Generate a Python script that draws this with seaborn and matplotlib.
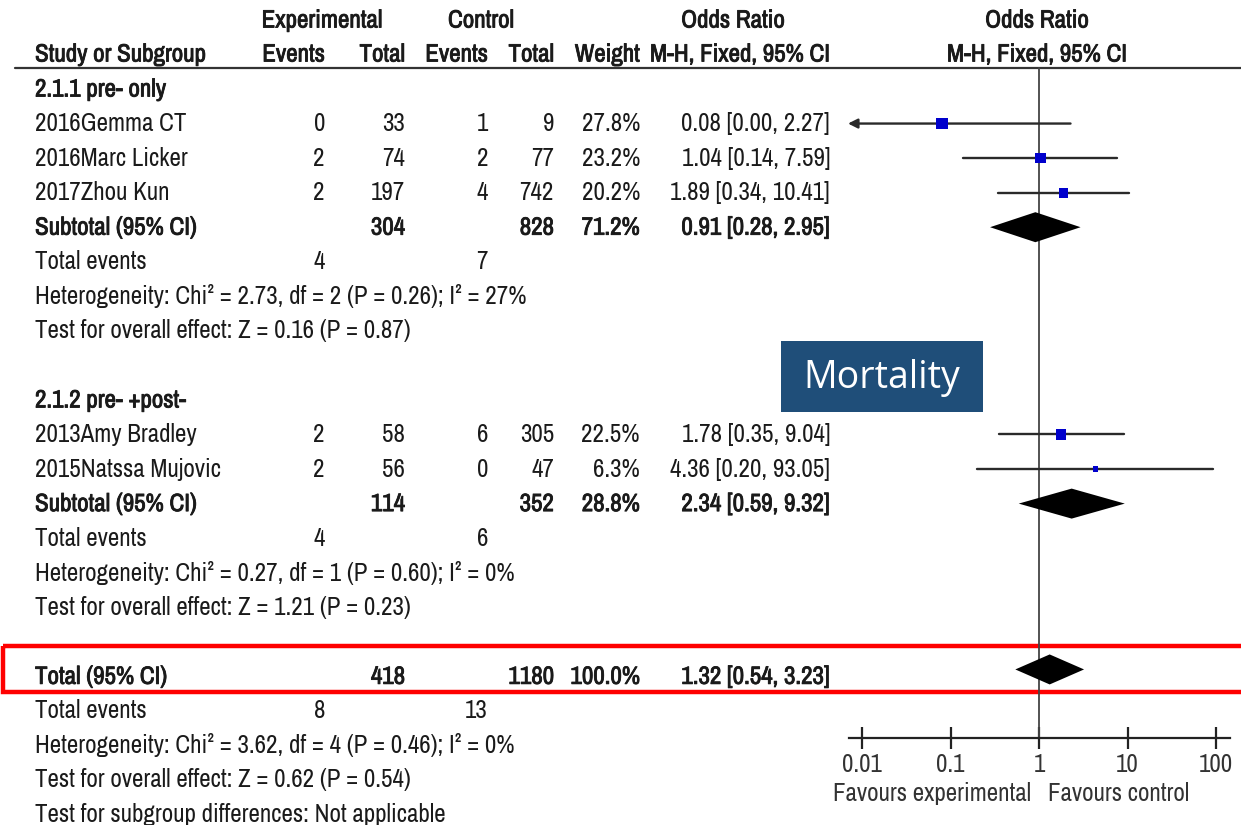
import numpy as np
import matplotlib
matplotlib.use("Agg")
import matplotlib.pyplot as plt
import matplotlib.patheffects as pe
import seaborn as sns
from matplotlib.patches import Rectangle

sns.set_theme(style="white")
NARROW = ['Archivo Narrow', 'Roboto Condensed', 'Liberation Sans', 'DejaVu Sans']
plt.rcParams['font.family'] = NARROW

# ---------------- data ----------------
group_labels = ["2.1.1 pre- only", "2.1.2 pre- +post-"]
study_names = ["2016Gemma CT", "2016Marc Licker", "2017Zhou Kun",
               "2013Amy Bradley", "2015Natssa Mujovic"]
study_group = [0, 0, 0, 1, 1]
exp_events = [0, 2, 2, 2, 2]
exp_total = [33, 74, 197, 58, 56]
ctl_events = [1, 2, 4, 6, 0]
ctl_total = [9, 77, 742, 305, 47]
weights = [27.8, 23.2, 20.2, 22.5, 6.3]
odds_ratio = [0.08, 1.04, 1.89, 1.78, 4.36]
ci_low = [0.00, 0.14, 0.34, 0.35, 0.20]
ci_high = [2.27, 7.59, 10.41, 9.04, 93.05]

sub_exp_total = [304, 114]
sub_ctl_total = [828, 352]
sub_weight = [71.2, 28.8]
sub_or = [0.91, 2.34]
sub_low = [0.28, 0.59]
sub_high = [2.95, 9.32]
sub_exp_events = [4, 4]
sub_ctl_events = [7, 6]
sub_het = ["Heterogeneity: Chi\u00b2 = 2.73, df = 2 (P = 0.26); I\u00b2 = 27%",
           "Heterogeneity: Chi\u00b2 = 0.27, df = 1 (P = 0.60); I\u00b2 = 0%"]
sub_z = ["Test for overall effect: Z = 0.16 (P = 0.87)",
         "Test for overall effect: Z = 1.21 (P = 0.23)"]

total_exp_total = 418
total_ctl_total = 1180
total_weight = 100.0
total_or = 1.32
total_low = 0.54
total_high = 3.23
total_exp_events = 8
total_ctl_events = 13
total_het = "Heterogeneity: Chi\u00b2 = 3.62, df = 4 (P = 0.46); I\u00b2 = 0%"
total_z = "Test for overall effect: Z = 0.62 (P = 0.54)"
subgroup_diff = "Test for subgroup differences: Not applicable"

axis_ticks = [0.01, 0.1, 1, 10, 100]
axis_tick_labels = ["0.01", "0.1", "1", "10", "100"]

# ---------------- layout ----------------
W, H = 1241, 825
ROW0, STEP = 89.0, 34.55          # pixel y of row 0 and row spacing


def py(px):
    return (px - ROW0) / STEP


X_ONE, DEC = 1039.0, 88.5         # pixel of OR=1 and pixels per decade


def lx(px):
    return 10 ** ((px - X_ONE) / DEC)


fig = plt.figure(figsize=(W / 100, H / 100), dpi=100)
bg = fig.add_axes([0, 0, 1, 1])
bg.set_xlim(0, W)
bg.set_ylim(py(H), py(0))
bg.axis('off')

ax = fig.add_axes([840 / W, 0, (W - 840) / W, 1])
ax.set_xscale('log')
ax.set_xlim(lx(840), lx(W))
ax.set_ylim(py(H), py(0))
ax.patch.set_alpha(0)
ax.grid(False)

FS = 18
TXT = '#1a1a1a'
BOLD_FX = [pe.Stroke(linewidth=0.6, foreground=TXT), pe.Normal()]
COL_NAME = 35
COL_EE, COL_ET, COL_CE, COL_CT, COL_W, COL_OR = 325, 405, 488, 554, 640, 830


def put(x, y, s, ha='right', bold=False, size=FS, **kw):
    bg.text(x, y, s, ha=ha, va='center', fontsize=size, color=TXT,
            family=NARROW, path_effects=BOLD_FX if bold else None, **kw)


# headers
put(322, py(20), "Experimental", ha='center', bold=True)
put(481, py(20), "Control", ha='center', bold=True)
put(733, py(20), "Odds Ratio", ha='center', bold=True)
put(1037, py(20), "Odds Ratio", ha='center', bold=True)
put(COL_NAME, py(54), "Study or Subgroup", ha='left', bold=True)
put(COL_EE, py(54), "Events", bold=True)
put(COL_ET, py(54), "Total", bold=True)
put(COL_CE, py(54), "Events", bold=True)
put(COL_CT, py(54), "Total", bold=True)
put(COL_W, py(54), "Weight", bold=True)
put(COL_OR, py(54), "M-H, Fixed, 95% CI", bold=True)
put(1037, py(54), "M-H, Fixed, 95% CI", ha='center', bold=True)
bg.plot([15, W], [py(68), py(68)], color='#333333', lw=1.6)

# rows
row = 0
study_rows = []
sub_rows = []
for g, glabel in enumerate(group_labels):
    put(COL_NAME, row, glabel, ha='left', bold=True)
    row += 1
    for i, name in enumerate(study_names):
        if study_group[i] != g:
            continue
        put(COL_NAME, row, name, ha='left')
        put(COL_EE, row, str(exp_events[i]))
        put(COL_ET, row, str(exp_total[i]))
        put(COL_CE, row, str(ctl_events[i]))
        put(COL_CT, row, str(ctl_total[i]))
        put(COL_W, row, f"{weights[i]:.1f}%")
        put(COL_OR, row, f"{odds_ratio[i]:.2f} [{ci_low[i]:.2f}, {ci_high[i]:.2f}]")
        study_rows.append(row)
        row += 1
    put(COL_NAME, row, "Subtotal (95% CI)", ha='left', bold=True)
    put(COL_ET, row, str(sub_exp_total[g]), bold=True)
    put(COL_CT, row, str(sub_ctl_total[g]), bold=True)
    put(COL_W, row, f"{sub_weight[g]:.1f}%", bold=True)
    put(COL_OR, row, f"{sub_or[g]:.2f} [{sub_low[g]:.2f}, {sub_high[g]:.2f}]", bold=True)
    sub_rows.append(row)
    row += 1
    put(COL_NAME, row, "Total events", ha='left')
    put(COL_EE, row, str(sub_exp_events[g]))
    put(COL_CE, row, str(sub_ctl_events[g]))
    row += 1
    put(COL_NAME, row, sub_het[g], ha='left')
    row += 1
    put(COL_NAME, row, sub_z[g], ha='left')
    row += 2

total_row = row
put(COL_NAME, row, "Total (95% CI)", ha='left', bold=True)
put(COL_ET, row, str(total_exp_total), bold=True)
put(COL_CT, row, str(total_ctl_total), bold=True)
put(COL_W, row, f"{total_weight:.1f}%", bold=True)
put(COL_OR, row, f"{total_or:.2f} [{total_low:.2f}, {total_high:.2f}]", bold=True)
row += 1
put(COL_NAME, row, "Total events", ha='left')
put(COL_EE, row, str(total_exp_events))
put(COL_CE, row, str(total_ctl_events))
row += 1
put(COL_NAME, row, total_het, ha='left')
row += 1
put(COL_NAME, row, total_z, ha='left')
row += 1
put(COL_NAME, row, subgroup_diff, ha='left')

# ---------------- forest part ----------------
axis_y = py(738)
ax.plot([1, 1], [py(68), axis_y], color='#444444', lw=1.3, zorder=1)

lo_clip = lx(848)
for i, r in enumerate(study_rows):
    if ci_low[i] > 0:
        ax.plot([ci_low[i], ci_high[i]], [r, r], color='#2a2a2a', lw=1.7, zorder=2)
    else:
        ax.annotate("", xy=(lo_clip, r), xytext=(ci_high[i], r),
                    arrowprops=dict(arrowstyle='-|>', color='#2a2a2a', lw=1.7,
                                    mutation_scale=14, shrinkA=0, shrinkB=0),
                    zorder=2)

side_px = 2.2 * np.sqrt(np.array(weights))
ax.scatter(odds_ratio, study_rows, marker='s', s=(side_px * 0.72) ** 2,
           color='#0000cc', edgecolors='none', zorder=3)

half = 15 / STEP
for g, r in enumerate(sub_rows):
    ax.fill([sub_low[g], sub_or[g], sub_high[g], sub_or[g]],
            [r, r - half, r, r + half], color='black', zorder=3, lw=0)
ax.fill([total_low, total_or, total_high, total_or],
        [total_row - 0.2, total_row - 0.2 - half, total_row - 0.2, total_row - 0.2 + half],
        color='black', zorder=3, lw=0)

for s in ['top', 'left', 'right']:
    ax.spines[s].set_visible(False)
ax.spines['bottom'].set_position(('data', axis_y))
ax.spines['bottom'].set_bounds(lx(849), lx(1230))
ax.spines['bottom'].set_color('#222222')
ax.spines['bottom'].set_linewidth(1.6)
ax.set_xticks(axis_ticks)
ax.set_xticklabels(axis_tick_labels)
ax.xaxis.set_minor_locator(matplotlib.ticker.NullLocator())
ax.tick_params(axis='x', which='major', direction='inout', length=16, width=1.6,
               color='#222222', labelsize=FS, labelcolor='#333333', pad=3, bottom=True)
for t in ax.get_xticklabels():
    t.set_family(NARROW)
ax.set_yticks([])

ax.text(lx(1031), py(794), "Favours experimental", ha='right', va='center',
        fontsize=FS, color='#333333', family=NARROW)
ax.text(lx(1048), py(794), "Favours control", ha='left', va='center',
        fontsize=FS, color='#333333', family=NARROW)

# ---------------- highlights ----------------
bg.add_patch(Rectangle((3, py(646)), 1300, py(692) - py(646), fill=False,
                       ec='#ff0000', lw=3.2, zorder=5))
bg.add_patch(Rectangle((781, py(341)), 202, py(412) - py(341), fc='#1f4e79',
                       ec='none', zorder=5))
bg.text(882, py(378), "Mortality", ha='center', va='center', color='white',
        fontsize=27, family=['Open Sans', 'DejaVu Sans'], zorder=6)

fig.savefig("out.png", dpi=100)
